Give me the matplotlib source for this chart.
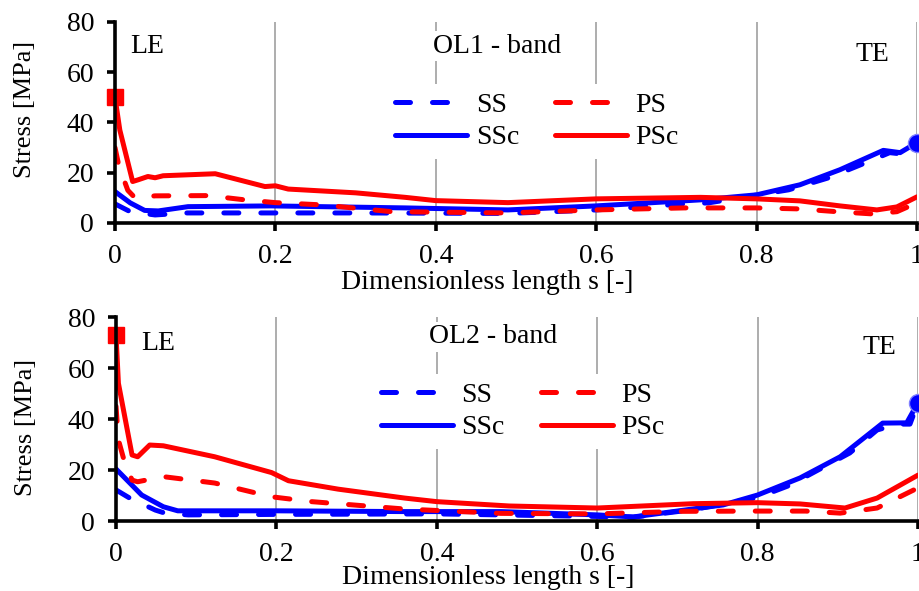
import matplotlib
matplotlib.use("Agg")
import matplotlib.pyplot as plt

plt.rcParams["font.family"] = ["Liberation Serif", "DejaVu Serif"]
plt.rcParams["font.size"] = 20

BLUE = "#0000ff"
RED = "#ff0000"

# ---- OL1 band (top) ----
ol1_ss_x = [0, 0.019, 0.05, 0.09, 0.2, 0.3, 0.4, 0.49, 0.6, 0.71, 0.74, 0.84, 0.89, 0.94, 0.966, 0.98, 1.0]
ol1_ss_y = [7.6, 4.5, 3.2, 4, 4, 4, 3.9, 3.8, 5.2, 7.6, 8, 13.2, 18, 24.5, 28, 27.5, 32]
ol1_ssc_x = [0, 0.019, 0.037, 0.054, 0.091, 0.195, 0.362, 0.49, 0.6, 0.73, 0.8, 0.854, 0.904, 0.958, 0.979, 1.0]
ol1_ssc_y = [12.5, 8, 5, 4.8, 6.5, 6.8, 6, 5.2, 6.8, 9.2, 11.2, 15.2, 21.2, 28.9, 28, 32]
ol1_ps_x = [0, 0.005, 0.016, 0.025, 0.05, 0.116, 0.162, 0.2, 0.258, 0.345, 0.49, 0.6, 0.71, 0.8, 0.854, 0.9, 0.945, 0.975, 1.0]
ol1_ps_y = [30, 22.5, 13, 10, 10.8, 10.9, 9.2, 8.1, 7.2, 4.5, 4, 5.2, 6, 6, 5.6, 4.5, 3.6, 4.5, 8]
ol1_psc_x = [0, 0.006, 0.022, 0.029, 0.041, 0.05, 0.06, 0.125, 0.187, 0.2, 0.216, 0.3, 0.362, 0.4, 0.49, 0.6, 0.73, 0.8, 0.854, 0.904, 0.95, 0.975, 1.0]
ol1_psc_y = [50, 37, 16.5, 17.2, 18.5, 18, 18.8, 19.6, 14.5, 14.8, 13.5, 12, 10.2, 8.9, 8.1, 9.6, 10.2, 9.6, 8.8, 6.8, 5.2, 6.4, 10.4]
ol1_le = (0, 50)
ol1_te = (1, 32)

# ---- OL2 band (bottom) ----
ol2_ss_x = [0, 0.017, 0.049, 0.061, 0.09, 0.2, 0.4, 0.6, 0.645, 0.72, 0.8, 0.84, 0.915, 0.949, 0.975, 0.99, 1.0]
ol2_ss_y = [12.2, 9, 4.3, 3.1, 2.4, 2.6, 2.8, 1.8, 1.5, 4.5, 9.2, 14, 26.7, 35.7, 38, 38, 46.4]
ol2_ssc_x = [0, 0.032, 0.059, 0.077, 0.111, 0.2, 0.36, 0.48, 0.6, 0.645, 0.728, 0.757, 0.8, 0.853, 0.903, 0.956, 0.986, 1.0]
ol2_ssc_y = [20.4, 10.2, 5.6, 4, 4, 4, 3.7, 3.7, 2.4, 1.6, 5.1, 6.3, 10.2, 16.9, 25.2, 38.4, 38.5, 46.4]
ol2_ps_x = [0, 0.003, 0.009, 0.02, 0.027, 0.059, 0.123, 0.194, 0.244, 0.36, 0.48, 0.6, 0.707, 0.8, 0.86, 0.903, 0.949, 1.0]
ol2_ps_y = [45, 31.8, 25, 16, 15.4, 17.4, 14.9, 9.5, 7.6, 4.7, 3, 2.8, 3.8, 3.9, 3.9, 3.1, 5.1, 13]
ol2_psc_x = [0, 0.003, 0.02, 0.027, 0.042, 0.059, 0.123, 0.194, 0.215, 0.277, 0.36, 0.4, 0.49, 0.6, 0.72, 0.8, 0.853, 0.909, 0.949, 1.0]
ol2_psc_y = [73, 54, 25.9, 25.2, 29.8, 29.5, 25.2, 19, 15.8, 12.5, 9, 7.6, 5.9, 5.1, 6.8, 7.2, 6.7, 5.1, 9, 18]
ol2_le = (0, 73)
ol2_te = (1, 46.4)

xticks = [0, 0.2, 0.4, 0.6, 0.8, 1.0]
xticklabels = ["0", "0.2", "0.4", "0.6", "0.8", "1"]
yticks = [0, 20, 40, 60, 80]

panels = [
    dict(rect=[0.125, 0.6227, 0.8717, 0.3401], band="OL1 - band",
         ss=(ol1_ss_x, ol1_ss_y), ssc=(ol1_ssc_x, ol1_ssc_y),
         ps=(ol1_ps_x, ol1_ps_y), psc=(ol1_psc_x, ol1_psc_y),
         le=ol1_le, te=ol1_te,
         le_xy=(0.019, 70.4), band_xy=(0.476, 70.4), te_xy=(0.923, 67),
         leg=(0.339, 0.69), ylab_y=0.567, xlab_y=-0.232),
    dict(rect=[0.1261, 0.1184, 0.8717, 0.3452], band="OL2 - band",
         ss=(ol2_ss_x, ol2_ss_y), ssc=(ol2_ssc_x, ol2_ssc_y),
         ps=(ol2_ps_x, ol2_ps_y), psc=(ol2_psc_x, ol2_psc_y),
         le=ol2_le, te=ol2_te,
         le_xy=(0.032, 69.8), band_xy=(0.47, 72.2), te_xy=(0.931, 68.2),
         leg=(0.32, 0.72), ylab_y=0.458, xlab_y=-0.215),
]

fig = plt.figure(figsize=(9.2, 5.91), dpi=100)

for p in panels:
    ax = fig.add_axes(p["rect"])
    lw = 3.6
    dash = dict(linestyle=(0, (3.0, 4.4)), dash_capstyle="round")
    ax.plot(*p["ss"], color=BLUE, lw=lw, label="SS", zorder=3, **dash)
    ax.plot(*p["ssc"], color=BLUE, lw=lw, label="SSc", zorder=3, solid_capstyle="round")
    ax.plot(*p["ps"], color=RED, lw=lw, label="PS", zorder=3, **dash)
    ax.plot(*p["psc"], color=RED, lw=lw, label="PSc", zorder=3, solid_capstyle="round")
    ax.plot([p["le"][0]], [p["le"][1]], marker="s", ms=12, color=RED, clip_on=False, zorder=4)
    ax.plot([p["te"][0]], [p["te"][1]], marker="o", ms=13, color=BLUE, mec="#8080ff",
            mew=1, clip_on=False, zorder=4)

    ax.set_xlim(0, 1)
    ax.set_ylim(0, 80)
    ax.set_xticks(xticks)
    ax.set_xticklabels(xticklabels)
    ax.set_yticks(yticks)
    ax.grid(axis="x", color="#a0a0a0", lw=1.2)
    ax.set_axisbelow(True)
    for s in ["top", "right"]:
        ax.spines[s].set_visible(False)
    for s in ["left", "bottom"]:
        ax.spines[s].set_linewidth(2.6)
        ax.spines[s].set_zorder(5)
    ax.tick_params(axis="both", direction="out", length=6, width=2.6, labelsize=20)
    ax.tick_params(axis="x", pad=9)
    ax.tick_params(axis="y", pad=9)

    ax.set_xlabel("Dimensionless length s [-]", fontsize=20)
    ax.xaxis.set_label_coords(0.464, p["xlab_y"])
    ax.set_ylabel("Stress [MPa]", fontsize=19)
    ax.yaxis.set_label_coords(-0.098, p["ylab_y"])

    box = dict(facecolor="white", edgecolor="none", pad=2)
    ax.text(*p["le_xy"], "LE", ha="left", va="center", fontsize=20, bbox=box, zorder=2)
    ax.text(*p["band_xy"], p["band"], ha="center", va="center", fontsize=20, bbox=box, zorder=2)
    ax.text(*p["te_xy"], "TE", ha="left", va="center", fontsize=20, bbox=box, zorder=2)

    h, l = ax.get_legend_handles_labels()
    leg = ax.legend(h[:4], l[:4], ncol=2, loc="upper left", bbox_to_anchor=p["leg"],
                    frameon=True, framealpha=1, edgecolor="none", facecolor="white",
                    fontsize=20, handlelength=2.6, handletextpad=0.3, columnspacing=1.3,
                    labelspacing=0.25, borderpad=0.3, borderaxespad=0)
    leg.set_zorder(2)

plt.savefig("out.png", dpi=100)
